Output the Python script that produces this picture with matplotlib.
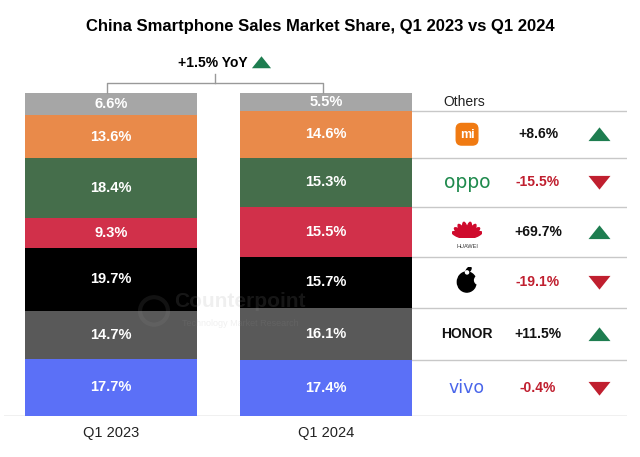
import numpy as np
import matplotlib
matplotlib.use("Agg")
import matplotlib.pyplot as plt
from matplotlib.patches import Ellipse, Circle, FancyBboxPatch

plt.rcParams['font.family'] = ['Liberation Sans', 'DejaVu Sans']

# data, bottom to top
brands = ["vivo", "HONOR", "Apple", "Huawei", "OPPO", "Xiaomi", "Others"]
share_2023 = [17.7, 14.7, 19.7, 9.3, 18.4, 13.6, 6.6]
share_2024 = [17.4, 16.1, 15.7, 15.5, 15.3, 14.6, 5.5]
yoy_change = [-0.4, 11.5, -19.1, 69.7, -15.5, 8.6]
total_yoy = 1.5
periods = ["Q1 2023", "Q1 2024"]
title = "China Smartphone Sales Market Share, Q1 2023 vs Q1 2024"

colors = ["#5b70f7", "#595959", "#000000", "#d1304a", "#456e4b", "#e98a4a", "#a6a6a6"]
up_color = "#1e7d50"
down_color = "#c01f2f"

fig = plt.figure(figsize=(6.4, 4.57), dpi=100)
ax = fig.add_axes([4 / 640, 0.0904, 623 / 640, 0.7054])
ax.set_xlim(-0.4977, 2.4)
ax.set_ylim(0, 100)
ax.axis("off")

# stacked bars
for j, shares in enumerate([share_2023, share_2024]):
    bottom = 0
    for k, v in enumerate(shares):
        ax.bar(j, v, bottom=bottom, width=0.8, color=colors[k], linewidth=0, zorder=2)
        ax.text(j, bottom + v / 2, f"{v:.1f}%", ha="center", va="center",
                color="white", fontsize=10.5, fontweight="bold", zorder=3)
        bottom += v
    ax.text(j, -5.4, periods[j], ha="center", va="center", fontsize=10.5, color="#222222")

ax.axhline(0, color="#b5b5b5", lw=1, zorder=1)

# watermark
ax.text(0.6, 35.5, "Counterpoint", ha="center", va="center", fontsize=15,
        fontweight="bold", color="#999999", alpha=0.15, zorder=4)
ax.text(0.6, 28.6, "Technology Market Research", ha="center", va="center", fontsize=6.5,
        color="#999999", alpha=0.15, zorder=4)
ax.add_patch(Ellipse((0.2, 32.5), 0.13, 8.5, fill=False, lw=3, ec="#999999", alpha=0.12, zorder=4))

# bracket on top
ax.plot([-0.02, -0.02, 0.985, 0.985], [100, 103.1, 103.1, 100.1], color="#999999", lw=1,
        clip_on=False)
ax.plot([0.483, 0.483], [103.1, 106.0], color="#999999", lw=1, clip_on=False)
ax.text(0.475, 109.5, f"+{total_yoy}% YoY", ha="center", va="center", fontsize=10,
        fontweight="bold", clip_on=False)
tri_up = [(-1, -0.6), (1, -0.6), (0, 0.65)]
tri_down = [(-1, 0.6), (1, 0.6), (0, -0.65)]
ax.scatter([0.698], [109.7], marker=tri_up, s=190, color=up_color, clip_on=False, lw=0)

# table on the right
tops = np.cumsum(share_2024)
mids = tops - np.array(share_2024) / 2
ax.text(1.642, mids[-1], "Others", ha="center", va="center", fontsize=10, color="#222222")
for y in tops[:-1]:
    ax.plot([1.4, 2.4], [y, y], color="#c8c8c8", lw=1, zorder=1)

x_logo, x_pct, x_tri = 1.656, 1.986, 2.27
for k, ch in enumerate(yoy_change):
    y = mids[k]
    txt = f"+{ch}%" if ch > 0 else f"{ch}%"
    ax.text(x_pct, y, txt, ha="center", va="center", fontsize=10, fontweight="bold",
            color="#111111" if ch > 0 else down_color)
    ax.scatter([x_tri], [y], marker=tri_up if ch > 0 else tri_down, s=250, lw=0,
               color=up_color if ch > 0 else down_color)


def logo_axes(yc, w_px, h_px):
    w = w_px / 215
    h = h_px / 3.227
    la = ax.inset_axes([x_logo - w / 2, yc - h / 2, w, h], transform=ax.transData)
    la.set_xlim(-1, 1)
    la.set_ylim(-h_px / w_px, h_px / w_px)
    la.axis("off")
    return la


# vivo
ax.text(x_logo, mids[0], "vivo", ha="center", va="center", fontsize=12.5,
        color="#4a66ea", family="DejaVu Sans")
# HONOR
ax.text(x_logo, mids[1], "HONOR", ha="center", va="center", fontsize=10,
        fontweight="bold", color="#111111")
# Apple
la = logo_axes(mids[2] + 0.6, 26, 26)
la.add_patch(Ellipse((-0.02, -0.12), 1.45, 1.55, color="black"))
la.add_patch(Circle((0.9, 0.02), 0.32, color="white"))
la.add_patch(Ellipse((0.12, 0.82), 0.26, 0.5, angle=-40, color="black"))
la.add_patch(Circle((0.0, 0.62), 0.12, color="white"))
# Huawei
la = logo_axes(mids[3] + 1.6, 30, 22)
for ang in [20, 38, 57, 78, 102, 123, 142, 160]:
    t = np.deg2rad(ang)
    la.add_patch(Ellipse((0.5 * np.cos(t), -0.72 + 0.5 * np.sin(t)), 1.1, 0.3,
                         angle=ang, color="#cf0a2c"))
ax.text(x_logo, mids[3] - 4.6, "HUAWEI", ha="center", va="center", fontsize=4,
        color="#333333")
# OPPO
ax.text(x_logo, mids[4], "oppo", ha="center", va="center", fontsize=13.5,
        color="#1f8a4d", family="DejaVu Sans")
# Xiaomi
la = logo_axes(mids[5], 24, 24)
la.add_patch(FancyBboxPatch((-0.9, -0.9), 1.8, 1.8, boxstyle="round,pad=0.0,rounding_size=0.45",
                            color="#f07a12"))
la.text(0, -0.05, "mi", ha="center", va="center", fontsize=9, fontweight="bold", color="white")

fig.text(0.5, 1 - 27 / 457, title, ha="center", va="center", fontsize=12, fontweight="bold")

fig.savefig("out.png", dpi=100, facecolor="white")
